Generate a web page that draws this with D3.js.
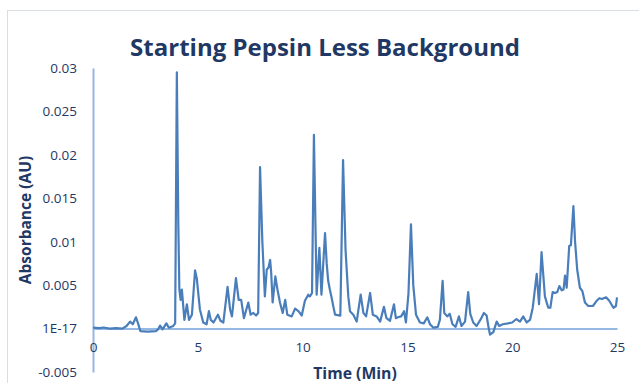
<!DOCTYPE html>
<html>
<head>
<meta charset="utf-8">
<script src="https://cdn.jsdelivr.net/npm/d3@7"></script>
<style>
  html, body { margin: 0; padding: 0; background: #fff; }
  svg { display: block; }
</style>
</head>
<body>
<div id="chart"></div>
<script>
// chart data
const chartTitle = 'Starting Pepsin Less Background';
const xAxisTitle = 'Time (Min)';
const yAxisTitle = 'Absorbance (AU)';

const xTickValues = [0, 5, 10, 15, 20, 25];
const xTickLabels = ['0', '5', '10', '15', '20', '25'];
const yTickValues = [-0.005, 0, 0.005, 0.01, 0.015, 0.02, 0.025, 0.03];
const yTickLabels = ['-0.005', '1E-17', '0.005', '0.01', '0.015', '0.02', '0.025', '0.03'];

const timeMin = [
  0, 0.3, 0.5, 0.8, 1.1, 1.4, 1.6, 1.77, 1.9, 2.05, 2.15, 2.26, 2.6, 3.0, 3.1, 3.2, 3.32, 3.5, 3.62, 3.83,
  3.92, 4.0, 4.07, 4.12, 4.18, 4.24, 4.36, 4.48, 4.58, 4.72, 4.87, 4.95, 5.1, 5.26, 5.42, 5.53, 5.62, 5.75, 5.96, 6.08,
  6.22, 6.42, 6.54, 6.63, 6.82, 6.95, 7.07, 7.2, 7.41, 7.52, 7.65, 7.78, 7.88, 7.97, 8.08, 8.2, 8.29, 8.37, 8.45, 8.5,
  8.57, 8.7, 8.8, 8.92, 9.05, 9.17, 9.27, 9.48, 9.64, 9.8, 9.96, 10.11, 10.27, 10.35, 10.45, 10.54, 10.67, 10.8, 10.9, 11.07,
  11.15, 11.22, 11.3, 11.39, 11.47, 11.55, 11.8, 11.93, 12.05, 12.18, 12.26, 12.42, 12.58, 12.77, 12.9, 13.03, 13.22, 13.35, 13.53, 13.7,
  13.88, 14.0, 14.17, 14.36, 14.45, 14.55, 14.7, 14.84, 14.93, 15.05, 15.17, 15.28, 15.41, 15.6, 15.78, 15.95, 16.08, 16.24, 16.45, 16.55,
  16.68, 16.76, 16.9, 17.02, 17.15, 17.3, 17.46, 17.58, 17.75, 17.9, 18.0, 18.14, 18.3, 18.48, 18.65, 18.78, 18.86, 18.94, 19.1, 19.26,
  19.38, 19.55, 19.8, 20.0, 20.2, 20.37, 20.53, 20.69, 20.85, 20.98, 21.17, 21.28, 21.4, 21.56, 21.72, 21.82, 21.93, 22.05, 22.15, 22.25,
  22.36, 22.45, 22.52, 22.6, 22.72, 22.8, 22.92, 23.0, 23.1, 23.23, 23.35, 23.47, 23.63, 23.85, 24.03, 24.16, 24.28, 24.48, 24.63, 24.83,
  24.95, 25.0
];
const absorbanceAU = [
  0.0001, 0.00005, 0.00012, 0, 0.00005, 0, 0.0003, 0.0008, 0.0005, 0.0013, 0.0006, -0.0003, -0.00035, -0.0003, -0.0001, 0.00035, -0.0001, 0.0006, 0.0001, 0.0003,
  0.0006, 0.0295, 0.012, 0.0045, 0.0033, 0.0045, 0.001, 0.0028, 0.001, 0.0016, 0.0067, 0.0058, 0.0022, 0.0007, 0.0005, 0.002, 0.001, 0.0007, 0.0016, 0.0009,
  0.0007, 0.0048, 0.0022, 0.0014, 0.0058, 0.0033, 0.0033, 0.0012, 0.003, 0.0016, 0.0018, 0.0015, 0.0018, 0.0186, 0.01, 0.0037, 0.0068, 0.007, 0.0079, 0.0065,
  0.003, 0.006, 0.0045, 0.003, 0.0018, 0.0033, 0.0016, 0.0014, 0.0023, 0.002, 0.0015, 0.0032, 0.0039, 0.0037, 0.0041, 0.0223, 0.0039, 0.0093, 0.0039, 0.011,
  0.0075, 0.0055, 0.0045, 0.0035, 0.0025, 0.0016, 0.0015, 0.0194, 0.009, 0.0037, 0.002, 0.0016, 0.0008, 0.0039, 0.0018, 0.0014, 0.0041, 0.0016, 0.0014, 0.0008,
  0.0025, 0.0012, 0.0009, 0.0028, 0.0012, 0.0013, 0.0014, 0.002, 0.0007, 0.004, 0.012, 0.005, 0.0016, 0.0007, 0.0006, 0.0013, 0.0005, 0.0001, 0.0002, 0.001,
  0.0055, 0.0018, 0.0014, 0.0017, 0.0005, 0.0002, 0.0014, 0.0003, 0.0008, 0.0042, 0.0017, 0.0007, 0.0003, 0.001, 0.0018, 0.0015, 0.0003, -0.0007, -0.0004, 0.0008,
  0.0003, 0.0005, 0.0006, 0.0007, 0.0011, 0.0008, 0.0014, 0.0007, 0.001, 0.0024, 0.0063, 0.0028, 0.0088, 0.0037, 0.0024, 0.0024, 0.0042, 0.0041, 0.0042, 0.0049,
  0.0044, 0.0045, 0.0061, 0.0047, 0.0095, 0.0096, 0.0141, 0.01, 0.0068, 0.0047, 0.0043, 0.003, 0.0026, 0.0026, 0.0032, 0.0035, 0.0034, 0.0036, 0.0032, 0.0024,
  0.0026, 0.0036
];

const width = 639;
const height = 383;
const margin = {top: 68, right: 22, bottom: 11, left: 93};
const plotW = width - margin.left - margin.right;
const plotH = height - margin.top - margin.bottom;

const textColor = '#1F3864';
const lineColor = '#4A7EBB';
const axisColor = '#95B8E3';
const fontFamily = '"Open Sans", "Liberation Sans", sans-serif';

const points = timeMin.map((t, i) => ({t: t, v: absorbanceAU[i]}));

const svg = d3.select('#chart').append('svg')
    .attr('width', width)
    .attr('height', height);

// chart area border (runs off the right/bottom edge like the screenshot)
svg.append('rect')
    .attr('x', 7.5).attr('y', 10.5)
    .attr('width', width).attr('height', height)
    .attr('fill', '#fff')
    .attr('stroke', '#D9DEE6')
    .attr('stroke-width', 1);

const scaleX = d3.scaleLinear().domain([0, 25]).range([0, plotW]);
const scaleY = d3.scaleLinear().domain([-0.005, 0.03]).range([plotH, 0]);

const g = svg.append('g')
    .attr('transform', 'translate(' + margin.left + ',' + margin.top + ')');

// y axis: line + labels, no tick marks
const yAxis = d3.axisLeft(scaleY)
    .tickValues(yTickValues)
    .tickFormat((d, i) => yTickLabels[i])
    .tickSize(0)
    .tickPadding(16);
const yAxisG = g.append('g').call(yAxis);
yAxisG.select('.domain').attr('stroke', axisColor).attr('stroke-width', 2);
yAxisG.selectAll('text')
    .attr('fill', textColor)
    .style('font-family', fontFamily)
    .style('font-size', '13.5px');

// x axis sits on zero, labels a bit below
const xAxis = d3.axisBottom(scaleX)
    .tickValues(xTickValues)
    .tickFormat((d, i) => xTickLabels[i])
    .tickSize(0)
    .tickPadding(14);
const xAxisG = g.append('g')
    .attr('transform', 'translate(0,' + scaleY(0) + ')')
    .call(xAxis);
xAxisG.select('.domain').attr('stroke', axisColor).attr('stroke-width', 2);
xAxisG.selectAll('text')
    .attr('fill', textColor)
    .style('font-family', fontFamily)
    .style('font-size', '13.5px');

// the trace
const line = d3.line()
    .x(d => scaleX(d.t))
    .y(d => scaleY(d.v));
g.append('path')
    .datum(points)
    .attr('fill', 'none')
    .attr('stroke', lineColor)
    .attr('stroke-width', 2.2)
    .attr('stroke-linejoin', 'round')
    .attr('d', line);

// shrink a text node's font until it fits the given width
function fitText(sel, maxW) {
  let size = parseFloat(sel.style('font-size'));
  while (sel.node().getComputedTextLength() > maxW && size > 6) {
    size -= 0.25;
    sel.style('font-size', size + 'px');
  }
}

const title = svg.append('text')
    .attr('x', 325)
    .attr('y', 56)
    .attr('text-anchor', 'middle')
    .attr('fill', textColor)
    .style('font-family', fontFamily)
    .style('font-weight', 'bold')
    .style('font-size', '24px')
    .text(chartTitle);
fitText(title, 390);

const xTitle = svg.append('text')
    .attr('x', 355)
    .attr('y', 379)
    .attr('text-anchor', 'middle')
    .attr('fill', textColor)
    .style('font-family', fontFamily)
    .style('font-weight', 'bold')
    .style('font-size', '16px')
    .text(xAxisTitle);
fitText(xTitle, 84);

const yTitle = svg.append('text')
    .attr('transform', 'translate(31,220) rotate(-90)')
    .attr('text-anchor', 'middle')
    .attr('fill', textColor)
    .style('font-family', fontFamily)
    .style('font-weight', 'bold')
    .style('font-size', '16px')
    .text(yAxisTitle);
fitText(yTitle, 130);
</script>
</body>
</html>
